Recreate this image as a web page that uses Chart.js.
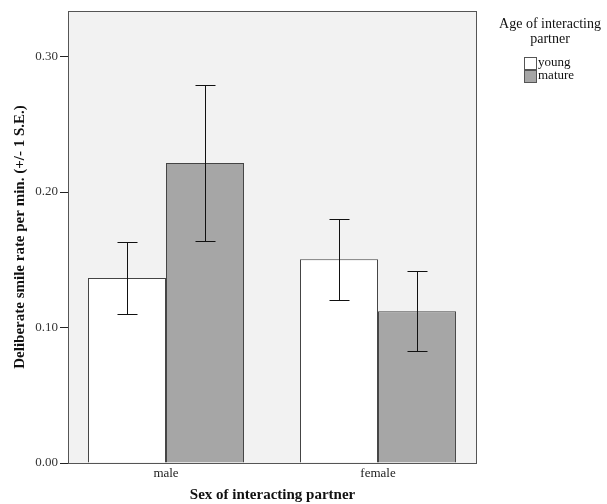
<!DOCTYPE html>
<html>
<head>
<meta charset="utf-8">
<script src="https://cdn.jsdelivr.net/npm/chart.js@4"></script>
<style>
  body { margin: 0; background: #fff; }
  canvas { display: block; }
</style>
</head>
<body>
<canvas id="smileChart" width="607" height="504"></canvas>
<script>
const categories = ['male', 'female'];
const seriesNames = ['young', 'mature'];
const youngMeans = [0.1365, 0.1503];
const youngLow = [0.110, 0.120];
const youngHigh = [0.163, 0.180];
const matureMeans = [0.2214, 0.112];
const matureLow = [0.164, 0.0824];
const matureHigh = [0.279, 0.142];
const yTicks = [0, 0.1, 0.2, 0.3];

const serif = "'Liberation Serif', 'DejaVu Serif', serif";

// category i sits at x = i on a linear axis so the groups can sit off-centre like SPSS does
const toPoints = arr => arr.map((v, i) => ({ x: i, y: v }));

const framePlugin = {
  id: 'frame',
  beforeDatasetsDraw(chart) {
    const { ctx, chartArea: a } = chart;
    ctx.save();
    ctx.fillStyle = '#f2f2f2';
    ctx.fillRect(a.left, a.top, a.right - a.left, a.bottom - a.top);
    ctx.restore();
  },
  afterDatasetsDraw(chart) {
    const { ctx, chartArea: a } = chart;
    ctx.save();
    ctx.strokeStyle = '#555';
    ctx.lineWidth = 1;
    ctx.strokeRect(a.left + 0.5, a.top + 0.5, a.right - a.left - 1, a.bottom - a.top);
    ctx.restore();
  }
};

// +/- 1 S.E. whiskers
const errorBarPlugin = {
  id: 'errorBars',
  afterDatasetsDraw(chart) {
    const { ctx } = chart;
    const y = chart.scales.y;
    ctx.save();
    ctx.strokeStyle = '#111';
    ctx.lineWidth = 1;
    chart.data.datasets.forEach((ds, i) => {
      chart.getDatasetMeta(i).data.forEach((bar, j) => {
        const x = Math.round(bar.x) + 0.5;
        const top = Math.round(y.getPixelForValue(ds.errHigh[j])) + 0.5;
        const bot = Math.round(y.getPixelForValue(ds.errLow[j])) + 0.5;
        ctx.beginPath();
        ctx.moveTo(x, top); ctx.lineTo(x, bot);
        ctx.moveTo(x - 10, top); ctx.lineTo(x + 10, top);
        ctx.moveTo(x - 10, bot); ctx.lineTo(x + 10, bot);
        ctx.stroke();
      });
    });
    ctx.restore();
  }
};

// legend with two-line title
const legendPlugin = {
  id: 'sideLegend',
  afterDraw(chart) {
    const { ctx } = chart;
    ctx.save();
    ctx.fillStyle = '#111';
    ctx.textAlign = 'center';
    ctx.textBaseline = 'middle';
    ctx.font = '14px ' + serif;
    ctx.fillText('Age of interacting', 550, 24);
    ctx.fillText('partner', 550, 39);
    ctx.textAlign = 'left';
    ctx.font = '13px ' + serif;
    chart.data.datasets.forEach((ds, i) => {
      const by = 57 + i * 13;
      ctx.fillStyle = ds.backgroundColor;
      ctx.fillRect(524, by, 12, 12);
      ctx.strokeStyle = '#555';
      ctx.strokeRect(524.5, by + 0.5, 12, 12);
      ctx.fillStyle = '#111';
      ctx.fillText(ds.label, 538, by + 6);
    });
    ctx.restore();
  }
};

new Chart(document.getElementById('smileChart'), {
  type: 'bar',
  data: {
    datasets: [
      {
        label: seriesNames[0],
        data: toPoints(youngMeans),
        errLow: youngLow,
        errHigh: youngHigh,
        backgroundColor: '#ffffff',
        borderColor: '#444444',
        borderWidth: 1
      },
      {
        label: seriesNames[1],
        data: toPoints(matureMeans),
        errLow: matureLow,
        errHigh: matureHigh,
        backgroundColor: '#a6a6a6',
        borderColor: '#444444',
        borderWidth: 1
      }
    ]
  },
  options: {
    responsive: false,
    animation: false,
    layout: { padding: { top: 11, right: 130, bottom: 0, left: 0 } },
    datasets: { bar: { categoryPercentage: 0.736, barPercentage: 1 } },
    plugins: {
      legend: { display: false },
      tooltip: { enabled: false }
    },
    scales: {
      x: {
        type: 'linear',
        offset: false,
        min: -0.4623,
        max: 1.4669,
        afterBuildTicks(scale) { scale.ticks = categories.map((c, i) => ({ value: i })); },
        grid: { display: false, drawTicks: false },
        border: { display: false },
        ticks: {
          color: '#222',
          font: { family: serif, size: 13 },
          padding: 3,
          callback: v => categories[v]
        },
        title: {
          display: true,
          text: 'Sex of interacting partner',
          color: '#111',
          font: { family: serif, size: 15, weight: 'bold' },
          padding: { top: 0, bottom: 0 }
        },
        afterFit(scale) { scale.height = 41; }
      },
      y: {
        min: 0,
        max: 0.3336,
        afterBuildTicks(scale) { scale.ticks = yTicks.map(v => ({ value: v })); },
        grid: { drawOnChartArea: false, tickLength: 8, color: '#222' },
        border: { display: false },
        ticks: {
          color: '#333',
          font: { family: serif, size: 13 },
          padding: 2,
          callback: v => v.toFixed(2)
        },
        title: {
          display: true,
          text: 'Deliberate smile rate per min. (+/- 1 S.E.)',
          color: '#111',
          font: { family: serif, size: 15, weight: 'bold' },
          padding: { top: 11, bottom: 0 }
        },
        afterFit(scale) { scale.width = 68; }
      }
    }
  },
  plugins: [framePlugin, errorBarPlugin, legendPlugin]
});
</script>
</body>
</html>
